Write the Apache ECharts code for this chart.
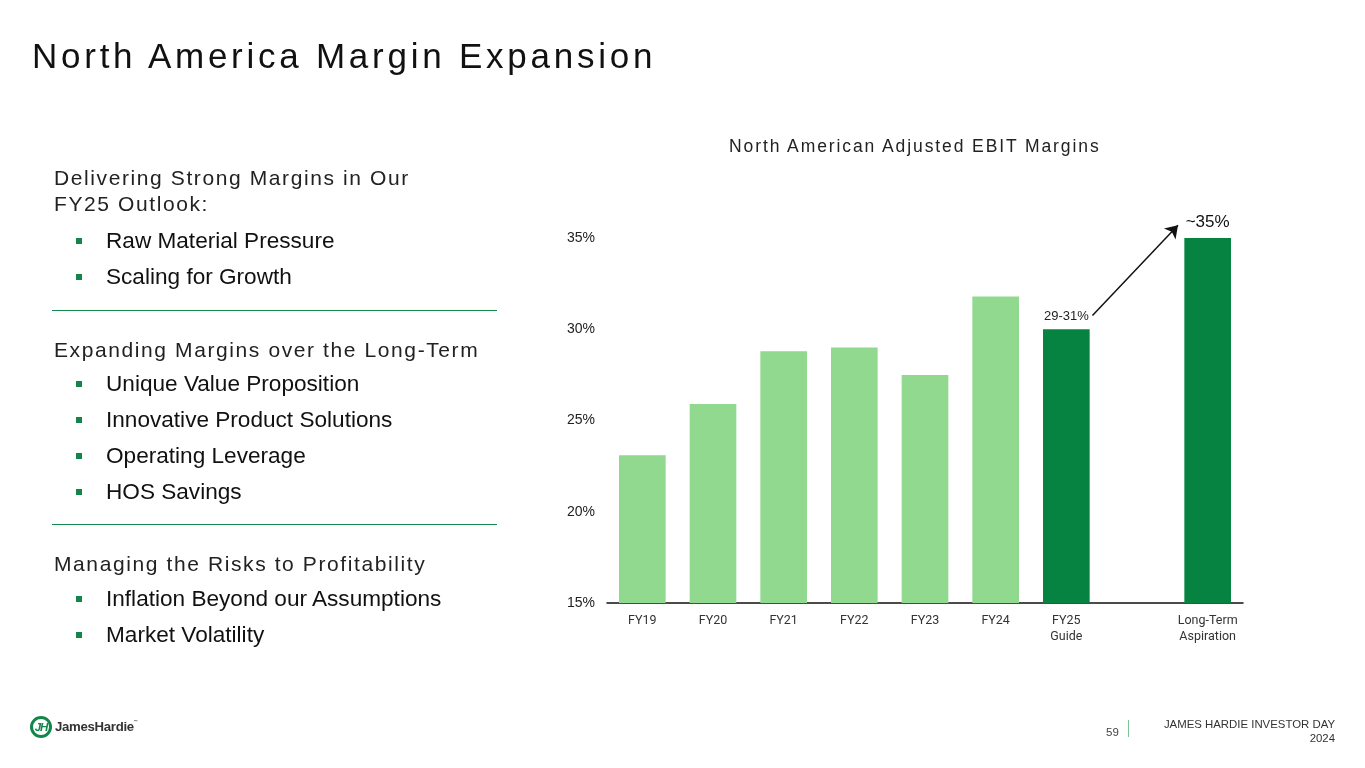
<!DOCTYPE html>
<html><head><meta charset="utf-8">
<script src="https://cdn.jsdelivr.net/npm/echarts@6/dist/echarts.min.js"></script>
<style>
html,body{margin:0;padding:0;background:#fff;}
body{width:1365px;height:768px;position:relative;overflow:hidden;font-family:"Liberation Sans",Arial,sans-serif;color:#1a1a1a;}
#chart{position:absolute;left:0;top:0;width:1365px;height:768px;}
.abs{position:absolute;white-space:nowrap;}
#title{left:32px;top:36px;font-size:35px;letter-spacing:3.75px;color:#111;}
#ctitle{left:729px;top:136px;font-size:17.5px;letter-spacing:1.9px;color:#222;}
.head{font-size:21px;letter-spacing:1.6px;color:#222;line-height:26px;}
.bul{font-size:22.6px;color:#111;left:106px;}
.sq{position:absolute;width:6px;height:6px;background:#12864a;left:-30px;top:10px;}
.rule{position:absolute;left:52px;width:445px;height:0;border-top:1.5px solid #16874a;}
</style></head>
<body>
<div id="chart"></div>
<div id="title" class="abs">North America Margin Expansion</div>
<div id="ctitle" class="abs">North American Adjusted EBIT Margins</div>

<div class="abs head" style="left:54px;top:165px;">Delivering Strong Margins in Our<br>FY25 Outlook:</div>
<div class="abs bul" style="top:228px;"><span class="sq"></span>Raw Material Pressure</div>
<div class="abs bul" style="top:264px;"><span class="sq"></span>Scaling for Growth</div>
<div class="rule" style="top:310px;"></div>
<div class="abs head" style="left:54px;top:337px;">Expanding Margins over the Long-Term</div>
<div class="abs bul" style="top:371px;"><span class="sq"></span>Unique Value Proposition</div>
<div class="abs bul" style="top:407px;"><span class="sq"></span>Innovative Product Solutions</div>
<div class="abs bul" style="top:443px;"><span class="sq"></span>Operating Leverage</div>
<div class="abs bul" style="top:479px;"><span class="sq"></span>HOS Savings</div>
<div class="rule" style="top:524px;"></div>
<div class="abs head" style="left:54px;top:551px;">Managing the Risks to Profitability</div>
<div class="abs bul" style="top:586px;"><span class="sq"></span>Inflation Beyond our Assumptions</div>
<div class="abs bul" style="top:622px;"><span class="sq"></span>Market Volatility</div>

<!-- logo -->
<div class="abs" style="left:30px;top:716px;width:22px;height:22px;border:3px solid #12864a;border-radius:50%;box-sizing:border-box;"></div>
<div class="abs" style="left:31px;top:718px;width:20px;text-align:center;font-size:11.5px;font-weight:bold;font-style:italic;color:#12864a;line-height:18px;letter-spacing:-1px;">JH</div>
<div class="abs" style="left:55px;top:719px;font-size:13.2px;font-weight:bold;color:#333;letter-spacing:-0.3px;">JamesHardie<span style="font-size:4px;vertical-align:top;">™</span></div>

<!-- footer -->
<div class="abs" style="left:1106px;top:726px;font-size:11.5px;color:#444;">59</div>
<div class="abs" style="left:1128px;top:720px;width:0;height:17px;border-left:1.5px solid #7fc59a;"></div>
<div class="abs" style="right:30px;top:717px;font-size:11.4px;color:#333;text-align:right;line-height:14px;">JAMES HARDIE INVESTOR DAY<br>2024</div>

<script>
var categories = ['FY19','FY20','FY21','FY22','FY23','FY24','FY25\nGuide','','Long-Term\nAspiration'];
var margins = [23.1, 25.9, 28.8, 29.0, 27.5, 31.8, 30.0, null, 35.0];
var barKinds = ['actual','actual','actual','actual','actual','actual','target','none','target'];
var valueLabels = ['', '', '', '', '', '', '29-31%', '', '~35%'];
var yTicks = [15, 20, 25, 30, 35];
var arrowFrom = [6.37, 30.75];
var arrowTo = [7.58, 35.7];

var colors = {actual:'#90d98e', target:'#068340', none:'transparent'};
var chart = echarts.init(document.getElementById('chart'), null, {renderer:'canvas'});
var barData = margins.map(function(v,i){
  var lab = valueLabels[i];
  return {
    value: v,
    itemStyle:{color: colors[barKinds[i]]},
    label: lab ? {show:true, position:'top', formatter: lab, fontFamily:'Liberation Sans',
      fontSize: i===8 ? 17 : 13, color: i===8 ? '#111' : '#222',
      distance: i===8 ? 7 : 6} : {show:false}
  };
});
chart.setOption({
  animation:false,
  grid:{left:607, right:122, top:238, bottom:165},
  xAxis:[{type:'category', data:categories,
    axisLine:{lineStyle:{color:'#111', width:1.5}}, axisTick:{show:false},
    axisLabel:{fontFamily:'Roboto', fontSize:12.5, color:'#333', margin:10, lineHeight:16, interval:0}},
    {type:'value', min:-0.5, max:8.5, show:false}],
  yAxis:{type:'value', min:yTicks[0], max:yTicks[yTicks.length-1], interval:5,
    splitLine:{show:false}, axisLine:{show:false}, axisTick:{show:false},
    axisLabel:{formatter:'{value}%', fontFamily:'Liberation Sans', fontSize:14, color:'#222', margin:12}},
  series:[
    {type:'bar', data:barData, barWidth:'66%', xAxisIndex:0},
    {type:'lines', coordinateSystem:'cartesian2d', xAxisIndex:1, yAxisIndex:0, silent:true, z:5,
     clip:false,
     symbol:['none','arrow'], symbolSize:[10,12],
     itemStyle:{color:'#111'},
     lineStyle:{color:'#111', width:1.5, opacity:1, curveness:0},
     data:[{coords:[arrowFrom, arrowTo]}]}
  ]
});
</script>
</body></html>
